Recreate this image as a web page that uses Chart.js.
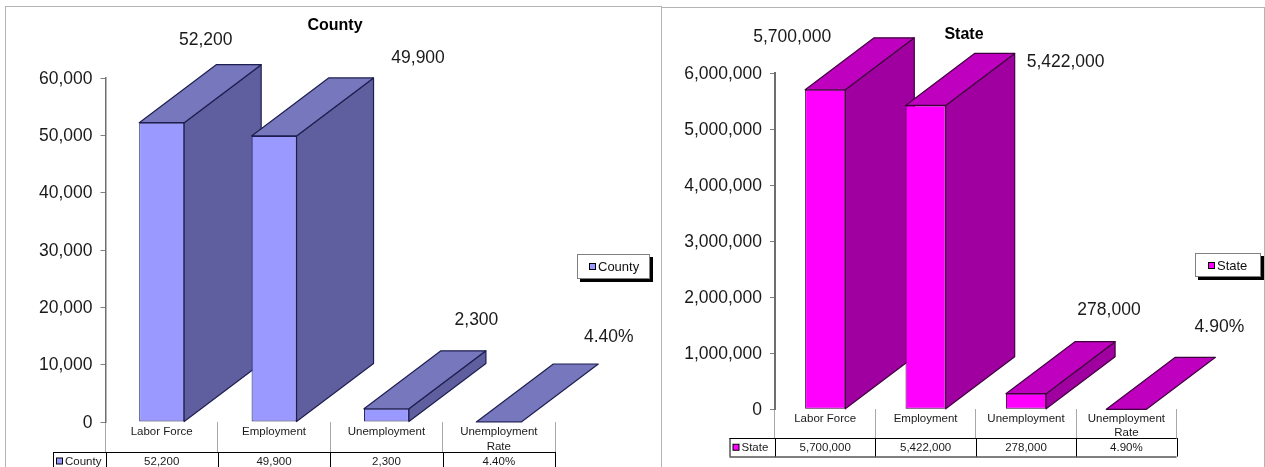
<!DOCTYPE html>
<html>
<head>
<meta charset="utf-8">
<title>County and State</title>
<script src="https://cdn.jsdelivr.net/npm/chart.js@4"></script>
<style>
  html, body { margin: 0; padding: 0; background: #fff; overflow: hidden; }
  body { width: 1265px; height: 467px; position: relative; font-family: "Liberation Sans", Arial, sans-serif; }
  canvas { position: absolute; top: 0; }
  .frame { position: absolute; border: 1px solid #b4b4b4; border-bottom: none; box-sizing: border-box; height: 470px; }
  .legend { position: absolute; box-sizing: border-box; background: #fff; border: 1px solid #808080; box-shadow: 3px 3px 0 #000;
            font-size: 13px; color: #111; white-space: nowrap; display: flex; align-items: center; }
  .legend i { display: block; width: 5px; height: 5px; border: 1px solid #000; margin-right: 2px; }
</style>
</head>
<body>
<div class="frame" style="left:5px;top:6px;width:657px"></div>
<div class="frame" style="left:661px;top:7px;width:604px"></div>
<canvas id="countyChart" width="670" height="467" style="left:0"></canvas>
<canvas id="stateChart" width="604" height="467" style="left:661px"></canvas>
<script>
const categories = ['Labor Force', 'Employment', 'Unemployment', ['Unemployment', 'Rate']];

const countyValues = [52200, 49900, 2300, 0.044];
const stateValues = [5700000, 5422000, 278000, 0.049];

const countyText = ['52,200', '49,900', '2,300', '4.40%'];
const stateText = ['5,700,000', '5,422,000', '278,000', '4.90%'];

// Excel data labels were dragged by hand, so each one has its own offset from the bar top
const countyLabelOffsets = [[44, -83], [144, -78], [90, -89], [110, -85]];
const stateLabelOffsets = [[-33, -53], [140, -43], [83, -84], [93, -82]];

const FONT = '"Liberation Sans", Arial, sans-serif';
Chart.defaults.font.family = FONT;

// side and top faces of the 3D bars, the front face is the normal bar
const depthPlugin = {
  id: 'depth',
  afterLayout(chart, args, opts) {
    // title sits over the whole panel, not over the plot
    chart.titleBlock.left = opts.titleCenter - 60;
    chart.titleBlock.right = opts.titleCenter + 60;
  },
  beforeDatasetsDraw(chart, args, opts) {
    const ctx = chart.ctx;
    const bars = chart.getDatasetMeta(0).data;
    ctx.save();
    ctx.lineWidth = 1.2;
    ctx.strokeStyle = opts.edge;
    ctx.lineJoin = 'round';
    bars.forEach(bar => {
      const left = bar.x - bar.width / 2;
      const right = bar.x + bar.width / 2;
      const top = bar.y;
      const bottom = bar.base;
      const dx = opts.dx;
      const dy = opts.dy;

      if (bottom - top > 0.5) {
        ctx.beginPath();
        ctx.moveTo(right, top);
        ctx.lineTo(right + dx, top - dy);
        ctx.lineTo(right + dx, bottom - dy);
        ctx.lineTo(right, bottom);
        ctx.closePath();
        ctx.fillStyle = opts.side;
        ctx.fill();
        ctx.stroke();
      }

      ctx.beginPath();
      ctx.moveTo(left, top);
      ctx.lineTo(left + dx, top - dy);
      ctx.lineTo(right + dx, top - dy);
      ctx.lineTo(right, top);
      ctx.closePath();
      ctx.fillStyle = opts.top;
      ctx.fill();
      ctx.stroke();
    });
    ctx.restore();
  }
};

// floating value labels and the data table under the axis
const tablePlugin = {
  id: 'valueTable',
  afterDraw(chart, args, opts) {
    const ctx = chart.ctx;
    const xScale = chart.scales.x;
    const bars = chart.getDatasetMeta(0).data;
    const dataset = chart.data.datasets[0];
    ctx.save();

    ctx.fillStyle = '#1a1a1a';
    ctx.textAlign = 'center';
    ctx.textBaseline = 'middle';
    ctx.font = '17.5px ' + FONT;
    bars.forEach((bar, i) => {
      ctx.fillText(opts.text[i], bar.x + opts.offsets[i][0], bar.y + opts.offsets[i][1]);
    });

    const rowTop = opts.rowTop;
    const rowBottom = rowTop + opts.rowHeight;
    const edges = [];
    for (let i = 0; i <= bars.length; i++) {
      edges.push(xScale.left + i * xScale.width / bars.length);
    }

    ctx.strokeStyle = '#000';
    ctx.lineWidth = 1;
    ctx.beginPath();
    ctx.moveTo(opts.rowLeft, rowTop + 0.5);
    ctx.lineTo(edges[bars.length], rowTop + 0.5);
    ctx.moveTo(opts.rowLeft, rowBottom + 0.5);
    ctx.lineTo(edges[bars.length], rowBottom + 0.5);
    ctx.moveTo(opts.rowLeft + 0.5, rowTop);
    ctx.lineTo(opts.rowLeft + 0.5, rowBottom);
    edges.forEach(x => {
      ctx.moveTo(Math.round(x) + 0.5, rowTop);
      ctx.lineTo(Math.round(x) + 0.5, rowBottom);
    });
    ctx.stroke();

    const midY = rowTop + opts.rowHeight / 2 + 0.5;
    ctx.font = '11.5px ' + FONT;
    bars.forEach((bar, i) => {
      ctx.fillText(opts.text[i], (edges[i] + edges[i + 1]) / 2, midY);
    });

    ctx.fillStyle = dataset.backgroundColor;
    ctx.strokeStyle = '#000';
    ctx.fillRect(opts.rowLeft + 3.5, midY - 3.5, 6, 6);
    ctx.strokeRect(opts.rowLeft + 3.5, midY - 3.5, 6, 6);
    ctx.fillStyle = '#1a1a1a';
    ctx.textAlign = 'left';
    ctx.fillText(dataset.label, opts.rowLeft + 12, midY);
    ctx.restore();
  }
};

function makeChart(id, cfg) {
  return new Chart(document.getElementById(id), {
    type: 'bar',
    data: {
      labels: categories,
      datasets: [{
        label: cfg.name,
        data: cfg.values,
        backgroundColor: cfg.front,
        borderColor: cfg.edge,
        borderWidth: 1,
        borderSkipped: false,
        barPercentage: 0.4,
        categoryPercentage: 1
      }]
    },
    options: {
      responsive: false,
      devicePixelRatio: 1,
      animation: false,
      layout: { padding: { left: 0, right: cfg.padRight, top: 0, bottom: 0 } },
      scales: {
        x: {
          border: { display: false },
          grid: { drawOnChartArea: false, offset: true, tickLength: cfg.tickLength, color: '#a8a8a8' },
          ticks: {
            color: '#1a1a1a', font: { size: 11.5, lineHeight: 1.24 },
            padding: -cfg.tickLength + cfg.labelGap, autoSkip: false, maxRotation: 0
          },
          afterFit(scale) { scale.height = cfg.bottomSpace; }
        },
        y: {
          min: 0,
          max: cfg.max,
          border: { display: true, color: '#6e6e6e', width: cfg.axisWidth },
          grid: { drawOnChartArea: false, tickLength: 5, tickColor: '#808080' },
          ticks: {
            stepSize: cfg.step, color: '#1a1a1a', font: { size: 17.5 }, padding: 8, labelOffset: 1,
            callback: v => v.toLocaleString('en-US')
          },
          afterFit(scale) { scale.width = cfg.axisX; }
        }
      },
      plugins: {
        legend: { display: false },
        tooltip: { enabled: false },
        title: {
          display: true, text: cfg.name, color: '#000',
          font: { size: 16, weight: 'bold', lineHeight: 1.2 },
          padding: cfg.titlePadding
        },
        depth: { dx: cfg.dx, dy: cfg.dy, side: cfg.side, top: cfg.top, edge: cfg.edge, titleCenter: cfg.titleCenter },
        valueTable: {
          text: cfg.text, offsets: cfg.offsets,
          rowLeft: cfg.rowLeft, rowTop: cfg.rowTop, rowHeight: cfg.rowHeight
        }
      }
    },
    plugins: [depthPlugin, tablePlugin]
  });
}

makeChart('countyChart', {
  name: 'County', values: countyValues, text: countyText, offsets: countyLabelOffsets,
  max: 60000, step: 10000, axisX: 105.5, axisWidth: 1.5, padRight: 115, titleCenter: 335,
  titlePadding: { top: 15.7, bottom: 43.1 }, bottomSpace: 45, tickLength: 30, labelGap: 3,
  dx: 77, dy: 58, front: '#9999ff', top: '#7777bd', side: '#5f5f9f', edge: '#1e1e50',
  rowLeft: 53, rowTop: 452, rowHeight: 18
});

makeChart('stateChart', {
  name: 'State', values: stateValues, text: stateText, offsets: stateLabelOffsets,
  max: 6000000, step: 1000000, axisX: 114, axisWidth: 2, padRight: 88.4, titleCenter: 303,
  titlePadding: { top: 24.7, bottom: 29.1 }, bottomSpace: 57.7, tickLength: 29, labelGap: 2,
  dx: 69, dy: 52, front: '#ff00ff', top: '#c000bf', side: '#a0009f', edge: '#40003f',
  rowLeft: 68.5, rowTop: 438, rowHeight: 18.5
});

// legends are plain boxes with a hard shadow, placed by hand like in the workbook
function addLegend(name, color, left, top, width, height, padLeft) {
  const box = document.createElement('div');
  box.className = 'legend';
  box.style.cssText = `left:${left}px;top:${top}px;width:${width}px;height:${height}px;padding-left:${padLeft}px`;
  const key = document.createElement('i');
  key.style.background = color;
  box.appendChild(key);
  box.appendChild(document.createTextNode(name));
  document.body.appendChild(box);
}
addLegend('County', '#9999ff', 577, 254, 73, 25, 11);
addLegend('State', '#ff00ff', 1195, 253, 66, 24, 12);
</script>
</body>
</html>
